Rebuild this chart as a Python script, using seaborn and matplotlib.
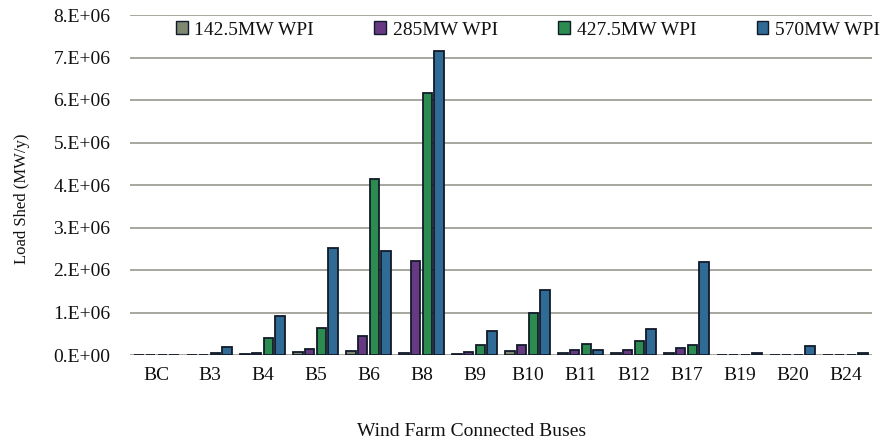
import matplotlib
matplotlib.use("Agg")
import matplotlib.pyplot as plt
from matplotlib.ticker import FuncFormatter, MultipleLocator
import seaborn as sns
import pandas as pd

buses = ["BC", "B3", "B4", "B5", "B6", "B8", "B9", "B10", "B11", "B12",
         "B17", "B19", "B20", "B24"]
series_names = ["142.5MW WPI", "285MW WPI", "427.5MW WPI", "570MW WPI"]

# Annual load shed (MW/y) per connected bus
wpi_142 = [0, 0.01e6, 0.02e6, 0.06e6, 0.10e6, 0.05e6, 0.02e6, 0.10e6, 0.05e6, 0.04e6, 0.05e6, 0.0, 0.0, 0.0]
wpi_285 = [0, 0.01e6, 0.05e6, 0.14e6, 0.45e6, 2.22e6, 0.08e6, 0.24e6, 0.11e6, 0.11e6, 0.16e6, 0.01e6, 0.01e6, 0.01e6]
wpi_427 = [0, 0.05e6, 0.40e6, 0.64e6, 4.13e6, 6.16e6, 0.24e6, 1.00e6, 0.26e6, 0.32e6, 0.24e6, 0.01e6, 0.01e6, 0.01e6]
wpi_570 = [0, 0.18e6, 0.91e6, 2.52e6, 2.44e6, 7.15e6, 0.56e6, 1.54e6, 0.11e6, 0.62e6, 2.20e6, 0.05e6, 0.21e6, 0.05e6]

colors = ["#7f8c6c", "#6a2d8f", "#1c9c4a", "#1f6ea6"]

rows = []
for name, vals in zip(series_names, [wpi_142, wpi_285, wpi_427, wpi_570]):
    for b, v in zip(buses, vals):
        rows.append({"Bus": b, "Series": name, "Load": v})
df = pd.DataFrame(rows)

sns.set_theme(style="white")
plt.rcParams["font.family"] = ["Liberation Serif", "DejaVu Serif"]

fig = plt.figure(figsize=(8.83, 4.45), dpi=100)
ax = fig.add_axes([130 / 883, 1 - 355 / 445, 742 / 883, 340 / 445])

sns.barplot(data=df, x="Bus", y="Load", hue="Series", order=buses,
            hue_order=series_names, palette=colors, width=0.88, gap=0.22,
            edgecolor="#111a2a", linewidth=1.3, errorbar=None, ax=ax,
            zorder=3)

ax.set_ylim(0, 8e6)
ax.set_xlim(-0.5, len(buses) - 0.5)
ax.yaxis.set_major_locator(MultipleLocator(1e6))


def sci_fmt(v, pos):
    n = int(round(v / 1e6))
    return "0.E+00" if n == 0 else f"{n}.E+06"


ax.yaxis.set_major_formatter(FuncFormatter(sci_fmt))
ax.grid(axis="y", color="#a0a098", linewidth=1.3, zorder=0)
ax.grid(axis="x", visible=False)
for s in ax.spines.values():
    s.set_visible(False)
ax.tick_params(axis="both", length=0, labelsize=14, colors="#111111")
ax.tick_params(axis="x", pad=9)
ax.tick_params(axis="y", pad=14)

ax.set_xlabel("")
ax.set_ylabel("Load Shed (MW/y)", fontsize=12, color="#111111")
ax.yaxis.set_label_coords(-100 / 742, 0.46)
fig.text(472 / 883, 1 - 432 / 445, "Wind Farm Connected Buses",
         ha="center", va="center", fontsize=14, color="#111111")

leg = ax.legend(loc="center", bbox_to_anchor=((528 - 130) / 742, (355 - 30) / 340),
                ncol=4, frameon=False, fontsize=14, handlelength=0.6,
                handleheight=0.6, handletextpad=0.35, columnspacing=3.1,
                borderaxespad=0, labelcolor="#111111")
for h in leg.legend_handles:
    h.set_edgecolor("#111a2a")
    h.set_linewidth(1.0)

fig.savefig("out.png", dpi=100)
